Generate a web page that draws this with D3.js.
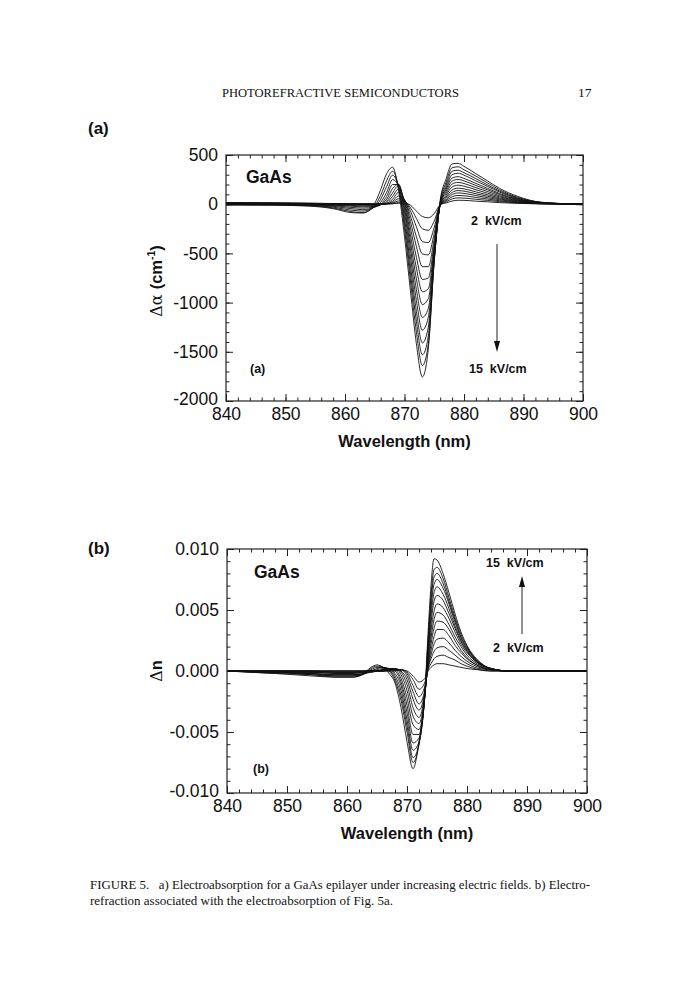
<!DOCTYPE html>
<html>
<head>
<meta charset="utf-8">
<script src="https://cdn.jsdelivr.net/npm/d3@7"></script>
<style>
  body { margin: 0; background: #fff; }
  svg { display: block; }
</style>
</head>
<body>
<div id="page"></div>
<script>
// field strengths, one curve each (kV/cm)
const FIELDS = [2, 3, 4, 5, 6, 7, 8, 9, 10, 11, 12, 13, 14, 15]

// (a) electroabsorption, delta alpha in cm^-1
const WL_A = [840, 848, 854, 858, 861, 863, 865, 866, 867, 868, 869, 870, 871, 872, 873, 874, 875, 876, 877, 878, 879, 880, 882, 884, 886, 889, 893, 900]
const D_ALPHA = [
    [15, 13, 10, 7, 5, 4, 4, 4, 4, 5, 9, 12, -10, -70, -125, -138, -95, -6, 13, 32, 40, 39, 31, 24, 16, 8, 3, 0],
    [14, 12, 9, 6, 4, 3, 3, 3, 3, 6, 18, 24, -35, -145, -250, -265, -170, -8, 24, 54, 64, 62, 50, 38, 26, 13, 4, 0],
    [13, 11, 8, 5, 2, 2, 2, 2, 3, 10, 33, 35, -70, -230, -380, -390, -235, -8, 35, 76, 89, 86, 69, 52, 35, 17, 5, 0],
    [12, 10, 6, 3, 0, 0, 0, 1, 4, 18, 55, 40, -120, -330, -505, -515, -295, -8, 46, 98, 114, 110, 88, 66, 45, 22, 6, 0],
    [10, 8, 4, 2, -2, -3, -3, -1, 5, 30, 85, 45, -175, -430, -635, -635, -350, -8, 58, 120, 138, 133, 106, 80, 54, 26, 7, 0],
    [8, 6, 2, 0, -4, -6, -6, -3, 8, 50, 120, 40, -240, -540, -765, -750, -400, -8, 72, 145, 163, 156, 125, 95, 64, 31, 9, 0],
    [6, 4, 0, -3, -7, -10, -10, -5, 15, 80, 155, 25, -310, -650, -890, -860, -440, -8, 90, 175, 193, 183, 147, 111, 75, 36, 10, 0],
    [4, 2, -3, -6, -12, -18, -15, -5, 30, 115, 190, 0, -380, -760, -1020, -960, -470, -5, 110, 205, 222, 210, 168, 128, 86, 41, 11, 0],
    [2, 0, -5, -10, -20, -27, -22, -5, 50, 160, 205, -40, -450, -870, -1150, -1060, -500, 0, 130, 235, 252, 237, 190, 145, 98, 47, 13, 0],
    [0, -2, -8, -15, -32, -40, -28, 0, 80, 200, 200, -80, -530, -980, -1280, -1150, -530, 5, 150, 265, 280, 262, 211, 160, 108, 51, 14, 0],
    [-2, -4, -10, -22, -45, -55, -30, 20, 120, 250, 190, -140, -620, -1090, -1410, -1250, -550, 10, 170, 300, 315, 295, 237, 180, 122, 58, 16, 0],
    [-4, -6, -12, -30, -60, -70, -25, 50, 180, 295, 170, -190, -700, -1190, -1530, -1340, -570, 15, 195, 335, 345, 320, 260, 195, 133, 63, 17, 0],
    [-6, -8, -15, -38, -75, -85, -15, 90, 240, 335, 170, -250, -780, -1300, -1640, -1420, -580, 20, 225, 370, 380, 350, 285, 215, 146, 70, 19, 0],
    [-8, -10, -20, -45, -85, -90, 10, 150, 310, 375, 140, -330, -880, -1420, -1755, -1470, -560, 40, 260, 410, 415, 385, 310, 235, 160, 80, 20, 0]
]

// (b) electrorefraction, delta n
const WL_B = [840, 848, 854, 858, 861, 863, 864, 865, 866, 867, 868, 869, 870, 871, 872, 873, 873.5, 874, 874.5, 875, 876, 877, 878, 879, 880, 882, 884, 887, 892, 900]
const D_N = [
    [0, 0, 0, 0, 0, 0, 0, 0, 0, 0, 0, 0.0001, 0, -0.0004, -0.0009, -0.0006, 0, 0.0003, 0.0005, 0.0006, 0.0006, 0.0005, 0.0004, 0.0003, 0.0002, 0.0001, 0, 0, 0, 0],
    [0, 0, 0, 0, 0, 0, 0, 0, 0, 0, 0.0001, 0.0001, -0.0001, -0.0007, -0.0015, -0.0009, 0.0001, 0.0006, 0.0010, 0.0012, 0.0013, 0.0011, 0.0009, 0.0006, 0.0004, 0.0001, 0, 0, 0, 0],
    [0, 0, 0, 0, 0, 0, 0, 0, 0, 0.0001, 0.0001, 0.0001, -0.0002, -0.0012, -0.0021, -0.0012, 0.0002, 0.0010, 0.0016, 0.0019, 0.0020, 0.0017, 0.0013, 0.0009, 0.0006, 0.0002, 0.0001, 0, 0, 0],
    [0, 0, 0, -0.0001, -0.0001, 0, 0, 0, 0, 0.0001, 0.0001, 0.0001, -0.0004, -0.0017, -0.0027, -0.0015, 0.0003, 0.0013, 0.0022, 0.0026, 0.0027, 0.0023, 0.0017, 0.0012, 0.0008, 0.0003, 0.0001, 0, 0, 0],
    [0, 0, 0, -0.0001, -0.0001, -0.0001, 0, 0, 0, 0.0001, 0.0002, 0, -0.0007, -0.0023, -0.0032, -0.0016, 0.0004, 0.0017, 0.0028, 0.0034, 0.0034, 0.0029, 0.0021, 0.0015, 0.0010, 0.0004, 0.0001, 0, 0, 0],
    [0, 0, -0.0001, -0.0001, -0.0001, -0.0001, 0, 0, 0.0001, 0.0002, 0.0002, -0.0001, -0.0011, -0.0030, -0.0038, -0.0017, 0.0005, 0.0022, 0.0035, 0.0041, 0.0040, 0.0034, 0.0025, 0.0017, 0.0011, 0.0004, 0.0001, 0, 0, 0],
    [0, -0.0001, -0.0001, -0.0002, -0.0002, -0.0001, 0, 0, 0.0001, 0.0002, 0.0002, -0.0003, -0.0016, -0.0037, -0.0043, -0.0018, 0.0008, 0.0027, 0.0042, 0.0048, 0.0046, 0.0038, 0.0028, 0.0020, 0.0013, 0.0005, 0.0001, 0, 0, 0],
    [0, -0.0001, -0.0001, -0.0002, -0.0002, -0.0001, -0.0001, 0, 0.0001, 0.0002, 0.0001, -0.0006, -0.0022, -0.0044, -0.0048, -0.0019, 0.0010, 0.0033, 0.0049, 0.0055, 0.0052, 0.0043, 0.0032, 0.0022, 0.0015, 0.0006, 0.0002, 0, 0, 0],
    [0, -0.0001, -0.0002, -0.0003, -0.0003, -0.0002, -0.0001, 0, 0.0001, 0.0002, 0, -0.0009, -0.0028, -0.0052, -0.0052, -0.0019, 0.0013, 0.0039, 0.0057, 0.0062, 0.0058, 0.0047, 0.0035, 0.0024, 0.0016, 0.0006, 0.0002, 0, 0, 0],
    [0, -0.0001, -0.0002, -0.0003, -0.0003, -0.0002, 0, 0.0001, 0.0002, 0.0002, -0.0002, -0.0012, -0.0034, -0.0059, -0.0055, -0.0019, 0.0016, 0.0045, 0.0064, 0.0069, 0.0063, 0.0051, 0.0037, 0.0025, 0.0017, 0.0006, 0.0002, 0, 0, 0],
    [0, -0.0001, -0.0002, -0.0004, -0.0004, -0.0002, 0, 0.0002, 0.0003, 0.0002, -0.0004, -0.0016, -0.0040, -0.0065, -0.0058, -0.0019, 0.0019, 0.0051, 0.0071, 0.0075, 0.0068, 0.0055, 0.0040, 0.0027, 0.0018, 0.0007, 0.0002, 0, 0, 0],
    [0, -0.0001, -0.0003, -0.0004, -0.0004, -0.0002, 0.0001, 0.0003, 0.0003, 0.0001, -0.0006, -0.0020, -0.0045, -0.0071, -0.0060, -0.0018, 0.0022, 0.0057, 0.0077, 0.0080, 0.0072, 0.0057, 0.0042, 0.0028, 0.0019, 0.0007, 0.0002, 0, 0, 0],
    [0, -0.0002, -0.0003, -0.0005, -0.0005, -0.0002, 0.0002, 0.0004, 0.0003, 0, -0.0008, -0.0024, -0.0050, -0.0075, -0.0060, -0.0017, 0.0025, 0.0062, 0.0083, 0.0085, 0.0076, 0.0060, 0.0044, 0.0030, 0.0020, 0.0007, 0.0002, 0, 0, 0],
    [0, -0.0002, -0.0004, -0.0005, -0.0005, -0.0001, 0.0003, 0.0005, 0.0003, -0.0002, -0.0010, -0.0030, -0.0058, -0.0080, -0.0058, -0.0015, 0.0030, 0.0070, 0.0092, 0.0091, 0.0080, 0.0064, 0.0047, 0.0032, 0.0021, 0.0008, 0.0002, 0, 0, 0]
]

const X_TICKS = [840, 850, 860, 870, 880, 890, 900]
const A_TICKS = [500, 0, -500, -1000, -1500, -2000]
const A_LABELS = ['500', '0', '-500', '-1000', '-1500', '-2000']
const N_TICKS = [0.010, 0.005, 0, -0.005, -0.010]
const N_LABELS = ['0.010', '0.005', '0.000', '-0.005', '-0.010']

const SANS = '"Liberation Sans", Arial, Helvetica, sans-serif'
const SERIF = '"Liberation Serif", "Times New Roman", serif'

const svg = d3.select('#page').append('svg').attr('width', 696).attr('height', 1000)
svg.append('rect').attr('width', 696).attr('height', 1000).attr('fill', '#fff')

function drawPanel(o) {
    const x = d3.scaleLinear().domain([840, 900]).range([o.left, o.right])
    const y = d3.scaleLinear().domain(o.yDomain).range([o.bottom, o.top])
    const g = svg.append('g')

    // minor ticks on all four sides, pointing in
    const xMinor = x.ticks(30)
    const yMinor = y.ticks(o.yMinorCount)
    const minor = [
        [d3.axisBottom(x).tickValues(xMinor), 0, o.bottom],
        [d3.axisTop(x).tickValues(xMinor), 0, o.top],
        [d3.axisLeft(y).tickValues(yMinor), o.left, 0],
        [d3.axisRight(y).tickValues(yMinor), o.right, 0]
    ]
    minor.forEach(([ax, tx, ty]) => {
        g.append('g').attr('transform', `translate(${tx},${ty})`)
            .call(ax.tickSize(-3.5).tickFormat(''))
            .call(s => s.select('.domain').remove())
            .selectAll('line').attr('stroke', '#222').attr('stroke-width', 0.8)
    })

    // major ticks
    const bottomAx = g.append('g').attr('transform', `translate(0,${o.bottom})`)
        .call(d3.axisBottom(x).tickValues(X_TICKS).tickSize(-7).tickPadding(7).tickFormat(d3.format('d')))
    const leftAx = g.append('g').attr('transform', `translate(${o.left},0)`)
        .call(d3.axisLeft(y).tickValues(o.yTicks).tickSize(-7).tickPadding(8)
            .tickFormat((d, i) => o.yLabels[i]))
    g.append('g').attr('transform', `translate(0,${o.top})`)
        .call(d3.axisTop(x).tickValues(X_TICKS).tickSize(-7).tickFormat(''))
    g.append('g').attr('transform', `translate(${o.right},0)`)
        .call(d3.axisRight(y).tickValues(o.yTicks).tickSize(-7).tickFormat(''))
    g.selectAll('.domain').remove()
    g.selectAll('.tick line').attr('stroke', '#222').attr('stroke-width', 1)
    ;[bottomAx, leftAx].forEach(a => a.selectAll('text')
        .attr('font-family', SANS).attr('font-size', 17.5).attr('fill', '#111'))
    // lift the lowest y label a little so it clears the first x label
    leftAx.selectAll('.tick').filter(d => d === o.yDomain[0]).select('text').attr('dy', '0.2em')

    // curves
    const line = d3.line()
        .x((d, i) => x(o.wl[i]))
        .y(d => y(d))
        .curve(d3.curveMonotoneX)
    g.selectAll('path.curve').data(o.series).join('path')
        .attr('class', 'curve')
        .attr('d', line)
        .attr('fill', 'none')
        .attr('stroke', '#111')
        .attr('stroke-width', 0.9)

    // frame
    g.append('rect')
        .attr('x', o.left).attr('y', o.top)
        .attr('width', o.right - o.left).attr('height', o.bottom - o.top)
        .attr('fill', 'none').attr('stroke', '#222').attr('stroke-width', 1.2)

    // axis titles
    svg.append('text')
        .attr('x', (o.left + o.right) / 2).attr('y', o.bottom + 46)
        .attr('text-anchor', 'middle')
        .attr('font-family', SANS).attr('font-size', 16.5).attr('font-weight', 'bold')
        .attr('fill', '#111')
        .text('Wavelength (nm)')

    return { x, y }
}

const pa = drawPanel({
    left: 226, right: 583, top: 155, bottom: 401,
    yDomain: [-2000, 500], yTicks: A_TICKS, yLabels: A_LABELS, yMinorCount: 25,
    wl: WL_A, series: D_ALPHA
})
const pb = drawPanel({
    left: 227, right: 587, top: 549, bottom: 793,
    yDomain: [-0.010, 0.010], yTicks: N_TICKS, yLabels: N_LABELS, yMinorCount: 20,
    wl: WL_B, series: D_N
})

// y titles
const ya = svg.append('text')
    .attr('transform', 'translate(162,281) rotate(-90)')
    .attr('text-anchor', 'middle')
    .attr('font-family', SANS).attr('font-size', 16.5).attr('fill', '#111')
ya.append('tspan').attr('font-family', '"DejaVu Serif", serif').attr('font-size', 16).text('Δα ')
ya.append('tspan').attr('font-weight', 'bold').text('(cm')
ya.append('tspan').attr('font-weight', 'bold').attr('font-size', 10.5).attr('dy', -7).text('-1')
ya.append('tspan').attr('font-weight', 'bold').attr('dy', 7).text(')')

const yb = svg.append('text')
    .attr('transform', 'translate(162,671) rotate(-90)')
    .attr('text-anchor', 'middle')
    .attr('font-family', SANS).attr('font-size', 16.5).attr('fill', '#111')
yb.append('tspan').attr('font-family', '"DejaVu Serif", serif').attr('font-size', 16).text('Δ')
yb.append('tspan').attr('font-weight', 'bold').text('n')

// annotations
function label(x, y, txt, size, weight) {
    svg.append('text').attr('x', x).attr('y', y)
        .attr('font-family', SANS).attr('font-size', size).attr('font-weight', weight || 'bold')
        .attr('fill', '#111').attr('xml:space', 'preserve')
        .text(txt)
}
label(88, 134, '(a)', 17)
label(88, 554, '(b)', 17)
label(246, 183, 'GaAs', 17.5)
label(254, 578, 'GaAs', 17.5)
label(250, 373, '(a)', 12.5)
label(253, 773, '(b)', 12.5)
label(471, 225, '2  kV/cm', 12.5)
label(469, 373, '15  kV/cm', 12.5)
label(486, 567, '15  kV/cm', 12.5)
label(493, 652, '2  kV/cm', 12.5)

function arrow(x, y1, y2) {
    const dir = Math.sign(y2 - y1)
    svg.append('line').attr('x1', x).attr('x2', x).attr('y1', y1).attr('y2', y2 - dir * 8)
        .attr('stroke', '#222').attr('stroke-width', 1)
    svg.append('path')
        .attr('d', `M${x},${y2} L${x - 3},${y2 - dir * 11} L${x + 3},${y2 - dir * 11} Z`)
        .attr('fill', '#111')
}
arrow(497, 244, 352)
arrow(522, 634, 576)

// page header and caption
svg.append('text').attr('x', 222).attr('y', 97)
    .attr('font-family', SERIF).attr('font-size', 13.5).attr('fill', '#111')
    .attr('textLength', 237).attr('lengthAdjust', 'spacingAndGlyphs')
    .text('PHOTOREFRACTIVE SEMICONDUCTORS')
svg.append('text').attr('x', 578).attr('y', 97)
    .attr('font-family', SERIF).attr('font-size', 13.5).attr('fill', '#111')
    .text('17')

svg.append('text').attr('x', 90).attr('y', 889)
    .attr('font-family', SERIF).attr('font-size', 13.5).attr('fill', '#111')
    .attr('textLength', 500).attr('lengthAdjust', 'spacingAndGlyphs')
    .attr('xml:space', 'preserve')
    .text('FIGURE 5.   a) Electroabsorption for a GaAs epilayer under increasing electric fields. b) Electro-')
svg.append('text').attr('x', 90).attr('y', 905)
    .attr('font-family', SERIF).attr('font-size', 13.5).attr('fill', '#111')
    .attr('textLength', 303).attr('lengthAdjust', 'spacingAndGlyphs')
    .text('refraction associated with the electroabsorption of Fig. 5a.')
</script>
</body>
</html>
